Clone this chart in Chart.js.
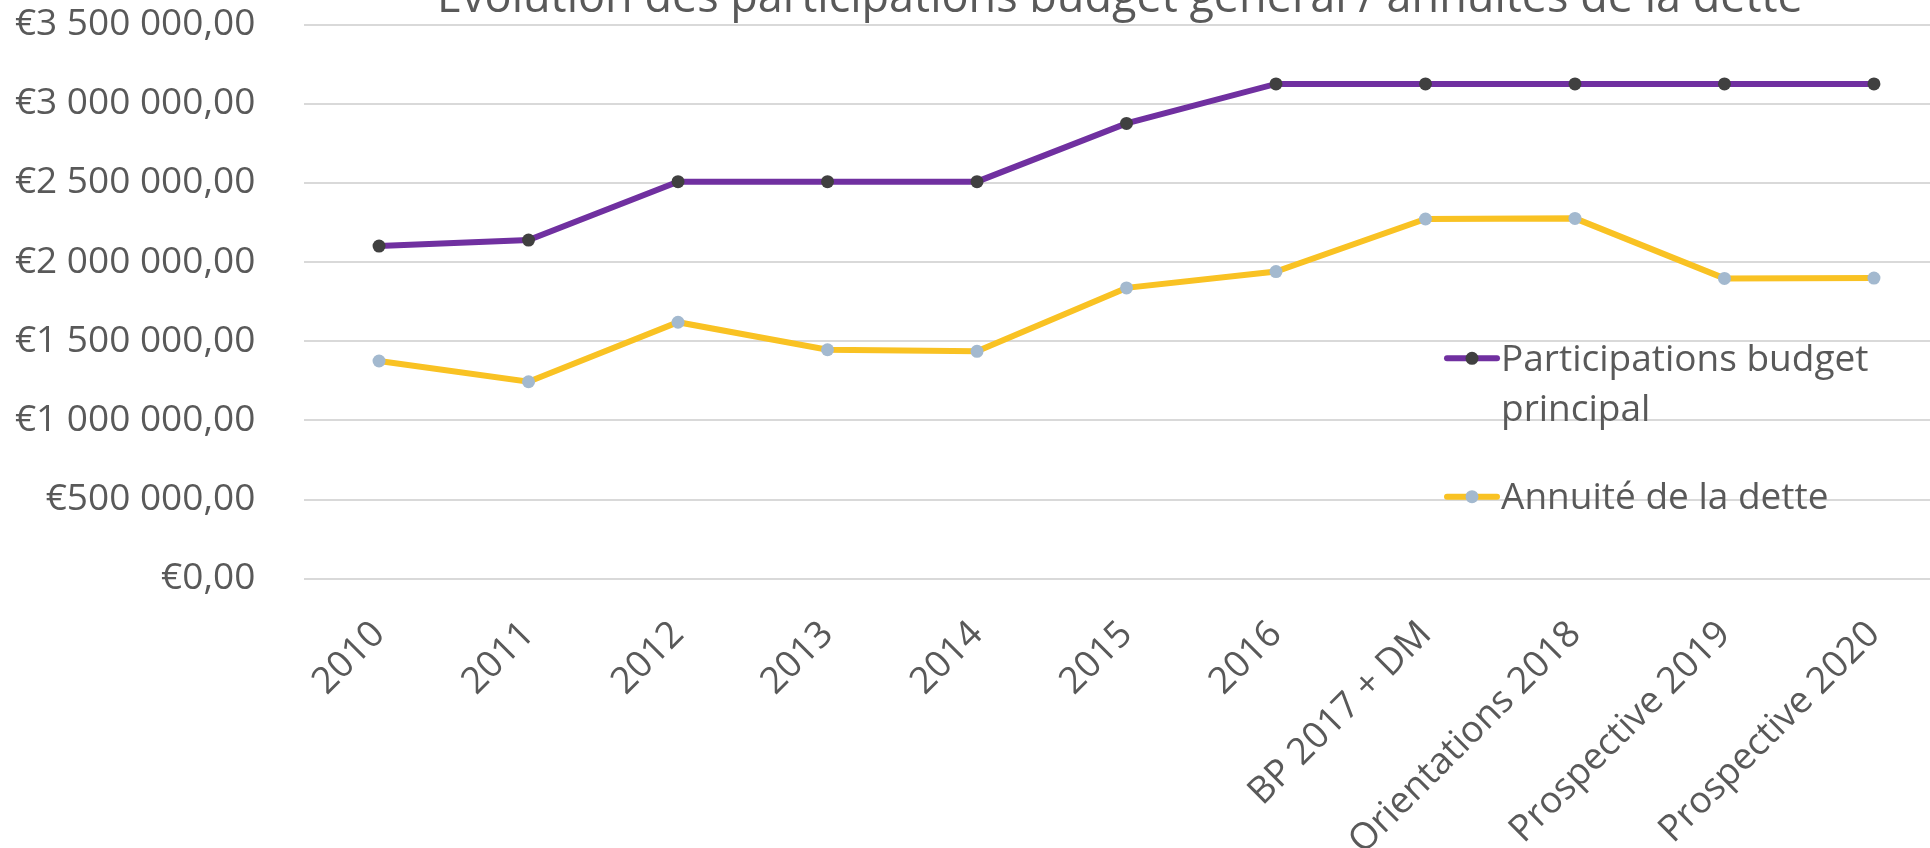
<!DOCTYPE html>
<html>
<head>
<meta charset="utf-8">
<script src="https://cdn.jsdelivr.net/npm/chart.js@4.4.1/dist/chart.umd.min.js"></script>
<style>
  html, body { margin: 0; padding: 0; background: #ffffff; overflow: hidden; width: 1930px; height: 848px; }
  #wrap { position: absolute; left: 0; top: 0; width: 1960px; height: 848px; }
</style>
</head>
<body>
<div id="wrap"><canvas id="c" width="1960" height="848"></canvas></div>
<script>
// ---- data ----
const chartTitle = 'Évolution des participations budget général / annuités de la dette';
const categories = ['2010', '2011', '2012', '2013', '2014', '2015', '2016', 'BP 2017 + DM', 'Orientations 2018', 'Prospective 2019', 'Prospective 2020'];
const seriesNames = ['Participations budget principal', 'Annuité de la dette'];
const participations = [2101000, 2139000, 2508000, 2508000, 2508000, 2876000, 3125000, 3125000, 3125000, 3125000, 3125000];
const annuite = [1375000, 1244000, 1620000, 1446000, 1436000, 1837000, 1940000, 2272000, 2276000, 1897000, 1899000];
const yMin = 0;
const yMax = 3500000;
const yStep = 500000;

// ---- styling ----
const FONT = '"Open Sans", "Noto Sans", sans-serif';
const TEXT = '#595959';

function euro(v) {
  const s = Math.round(v).toString().replace(/\B(?=(\d{3})+(?!\d))/g, ' ');
  return '€' + s + ',00';
}

const titlePlugin = {
  id: 'topTitle',
  afterDraw(chart) {
    const ctx = chart.ctx;
    ctx.save();
    ctx.font = '45px ' + FONT;
    ctx.fillStyle = TEXT;
    ctx.textAlign = 'center';
    ctx.textBaseline = 'alphabetic';
    ctx.fillText(chartTitle, 1120, 12);
    ctx.restore();
  }
};

const legendPlugin = {
  id: 'overlayLegend',
  afterDraw(chart) {
    const ctx = chart.ctx;
    const x0 = 1447, x1 = 1497, tx = 1501, maxW = 400, lh = 50;
    const ys = [358.3, 496.7];
    ctx.save();
    ctx.font = '37px ' + FONT;
    chart.data.datasets.forEach((ds, i) => {
      const y = ys[i];
      ctx.strokeStyle = ds.borderColor;
      ctx.lineWidth = 6;
      ctx.lineCap = 'round';
      ctx.beginPath();
      ctx.moveTo(x0, y);
      ctx.lineTo(x1, y);
      ctx.stroke();
      ctx.fillStyle = ds.pointBackgroundColor;
      ctx.beginPath();
      ctx.arc((x0 + x1) / 2, y, 6.5, 0, Math.PI * 2);
      ctx.fill();
      // word wrap
      const words = ds.label.split(' ');
      const lines = [];
      let cur = '';
      words.forEach(w => {
        const test = cur ? cur + ' ' + w : w;
        if (ctx.measureText(test).width > maxW && cur) { lines.push(cur); cur = w; }
        else cur = test;
      });
      if (cur) lines.push(cur);
      ctx.fillStyle = TEXT;
      ctx.textAlign = 'left';
      ctx.textBaseline = 'alphabetic';
      lines.forEach((ln, k) => ctx.fillText(ln, tx, y + 12.5 + k * lh));
    });
    ctx.restore();
  }
};

new Chart(document.getElementById('c'), {
  type: 'line',
  data: {
    labels: categories,
    datasets: [
      {
        label: seriesNames[0],
        data: participations,
        borderColor: '#7030A0',
        backgroundColor: '#7030A0',
        pointBackgroundColor: '#404040',
        pointBorderColor: '#404040',
        borderWidth: 6,
        pointRadius: 6.5,
        pointBorderWidth: 0,
        tension: 0
      },
      {
        label: seriesNames[1],
        data: annuite,
        borderColor: '#F9C223',
        backgroundColor: '#F9C223',
        pointBackgroundColor: '#A3B9CF',
        pointBorderColor: '#A3B9CF',
        borderWidth: 6,
        pointRadius: 6.5,
        pointBorderWidth: 0,
        tension: 0
      }
    ]
  },
  options: {
    responsive: false,
    animation: false,
    devicePixelRatio: 1,
    layout: { padding: { top: 24.6, right: 11.3, left: 0, bottom: 0 } },
    plugins: {
      legend: { display: false },
      title: { display: false },
      tooltip: { enabled: false }
    },
    scales: {
      x: {
        offset: true,
        grid: { display: false, drawTicks: false },
        border: { display: false },
        ticks: {
          color: TEXT,
          font: { family: FONT, size: 37 },
          maxRotation: 45,
          minRotation: 45,
          autoSkip: false,
          padding: 34
        },
        afterFit(scale) { scale.height = 269.3; }
      },
      y: {
        min: yMin,
        max: yMax,
        grid: { color: '#D9D9D9', lineWidth: 2, drawTicks: false },
        border: { display: false },
        ticks: {
          stepSize: yStep,
          color: TEXT,
          font: { family: FONT, size: 37 },
          padding: 49,
          callback: (v) => euro(v)
        },
        afterFit(scale) {
          scale.width = 304.3;
          scale.paddingTop = 0;
          scale.paddingBottom = 0;
        }
      }
    }
  },
  plugins: [titlePlugin, legendPlugin]
});
</script>
</body>
</html>
